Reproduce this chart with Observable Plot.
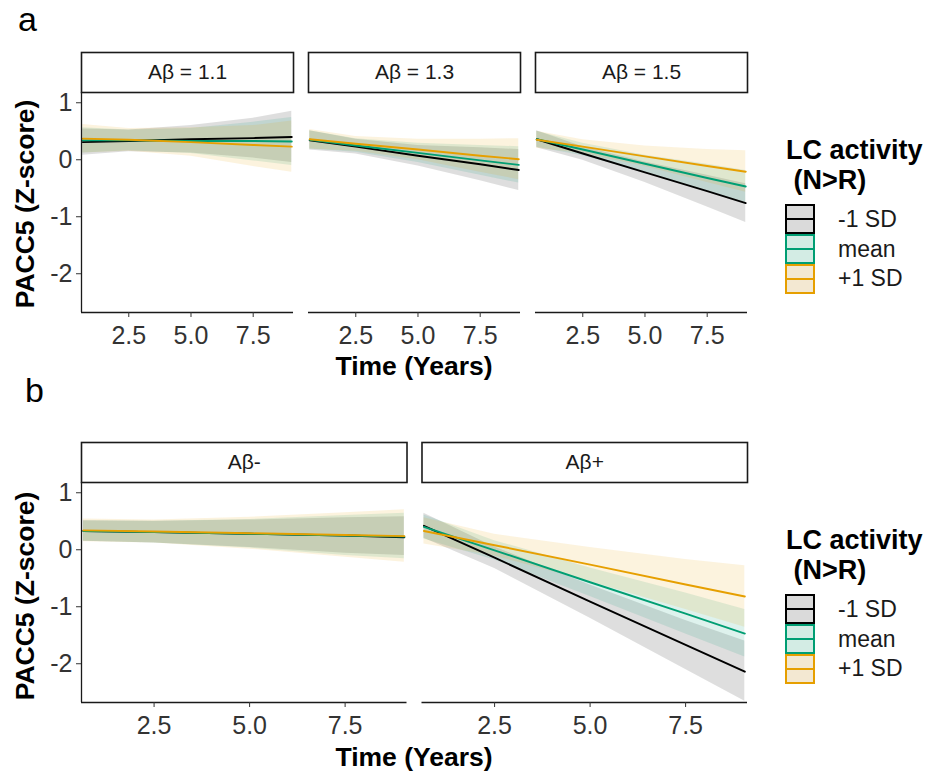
<!DOCTYPE html>
<html><head><meta charset="utf-8">
<script src="https://cdn.jsdelivr.net/npm/d3@7"></script>
<script src="https://cdn.jsdelivr.net/npm/@observablehq/plot@0.6"></script>
<style>
body{margin:0;background:#fff;}
#root{position:relative;width:928px;height:773px;overflow:hidden;font-family:"Liberation Sans",Arial,Helvetica,sans-serif;background:#fff;}
.lbl{position:absolute;line-height:1;white-space:pre;color:#000;}
.plotbox{position:absolute;left:0;}
</style></head><body><div id="root"></div>
<script>
// ---------- data ----------
const groups = ["-1 SD", "mean", "+1 SD"];
const groupColors = ["#000000", "#009E73", "#E69F00"];
const keyFills = ["#dadada", "#d3ece4", "#f3e8d2"];
const times = [0.65, 2.5, 5.0, 7.5, 9.05];
const facetsA = ["Aβ = 1.1", "Aβ = 1.3", "Aβ = 1.5"];
const facetsB = ["Aβ-", "Aβ+"];
const xTicks = [2.5, 5.0, 7.5];
const yTicks = [-2, -1, 0, 1];
const xDomain = [0.6, 9.12];
const yDomain = [-2.68, 1.18];

// rows: -1 SD, mean, +1 SD ; columns: times
const a11Fit   = [[0.31, 0.33, 0.36, 0.38, 0.40], [0.34, 0.34, 0.33, 0.33, 0.32], [0.37, 0.35, 0.31, 0.26, 0.23]];
const a11Lower = [[0.08, 0.14, 0.12, 0.03, -0.05], [0.12, 0.16, 0.11, -0.02, -0.10], [0.12, 0.15, 0.06, -0.12, -0.22]];
const a11Upper = [[0.54, 0.52, 0.60, 0.73, 0.85], [0.56, 0.52, 0.55, 0.66, 0.74], [0.62, 0.55, 0.56, 0.60, 0.68]];

const a13Fit   = [[0.34, 0.23, 0.07, -0.08, -0.18], [0.35, 0.25, 0.12, -0.01, -0.09], [0.36, 0.28, 0.18, 0.07, 0.01]];
const a13Lower = [[0.17, 0.10, -0.11, -0.37, -0.54], [0.19, 0.13, -0.05, -0.27, -0.41], [0.19, 0.15, 0.00, -0.22, -0.35]];
const a13Upper = [[0.51, 0.36, 0.25, 0.21, 0.18], [0.51, 0.37, 0.29, 0.25, 0.23], [0.53, 0.41, 0.36, 0.36, 0.37]];

const a15Fit   = [[0.36, 0.11, -0.22, -0.55, -0.76], [0.36, 0.18, -0.07, -0.32, -0.47], [0.35, 0.23, 0.06, -0.11, -0.21]];
const a15Lower = [[0.21, -0.01, -0.40, -0.83, -1.10], [0.22, 0.07, -0.22, -0.56, -0.75], [0.20, 0.11, -0.12, -0.40, -0.57]];
const a15Upper = [[0.51, 0.23, -0.04, -0.27, -0.42], [0.50, 0.29, 0.08, -0.08, -0.19], [0.50, 0.35, 0.24, 0.18, 0.16]];

const bNegFit   = [[0.33, 0.31, 0.28, 0.25, 0.22], [0.33, 0.31, 0.28, 0.25, 0.23], [0.34, 0.32, 0.29, 0.26, 0.24]];
const bNegLower = [[0.15, 0.12, 0.04, -0.06, -0.10], [0.15, 0.12, 0.03, -0.10, -0.16], [0.14, 0.12, 0.01, -0.13, -0.22]];
const bNegUpper = [[0.51, 0.50, 0.52, 0.56, 0.58], [0.51, 0.50, 0.53, 0.60, 0.64], [0.54, 0.52, 0.57, 0.65, 0.70]];

const bPosFit   = [[0.42, -0.14, -0.91, -1.67, -2.14], [0.40, -0.01, -0.57, -1.12, -1.47], [0.33, 0.08, -0.26, -0.61, -0.82]];
const bPosLower = [[0.20, -0.33, -1.20, -2.10, -2.66], [0.19, -0.18, -0.82, -1.48, -1.88], [0.10, -0.11, -0.56, -1.05, -1.36]];
const bPosUpper = [[0.64, 0.05, -0.62, -1.24, -1.60], [0.61, 0.16, -0.32, -0.76, -1.05], [0.56, 0.27, 0.04, -0.17, -0.28]];

// ---------- build tables ----------
function build(facet, fit, lower, upper) {
  const rows = [];
  groups.forEach((g, gi) => {
    times.forEach((t, ti) => {
      rows.push({facet, group: g, t, fit: fit[gi][ti], lo: lower[gi][ti], hi: upper[gi][ti]});
    });
  });
  return rows;
}
const rowsA = [
  ...build(facetsA[0], a11Fit, a11Lower, a11Upper),
  ...build(facetsA[1], a13Fit, a13Lower, a13Upper),
  ...build(facetsA[2], a15Fit, a15Lower, a15Upper)
];
const rowsB = [
  ...build(facetsB[0], bNegFit, bNegLower, bNegUpper),
  ...build(facetsB[1], bPosFit, bPosLower, bPosUpper)
];

const root = document.getElementById("root");
const W = 760, ML = 81, MR = 13;
const FONT = '"Liberation Sans", Arial, Helvetica, sans-serif';

function stripPlot(facets, pad) {
  return Plot.plot({
    width: W, height: 42, marginTop: 1, marginBottom: 1, marginLeft: ML, marginRight: MR,
    fx: {domain: facets, paddingInner: pad, paddingOuter: 0, round: false, axis: null},
    style: {fontFamily: FONT, background: "transparent", overflow: "visible"},
    marks: [
      Plot.frame({stroke: "#1a1a1a", strokeWidth: 1.6, fill: "white"}),
      Plot.text(facets, {fx: d => d, text: d => d, frameAnchor: "middle", fontSize: 21, fill: "#1a1a1a"})
    ]
  });
}

function mainPlot(facets, pad, rows) {
  return Plot.plot({
    width: W, height: 265, marginTop: 0, marginBottom: 45, marginLeft: ML, marginRight: MR,
    fx: {domain: facets, paddingInner: pad, paddingOuter: 0, round: false, axis: null},
    x: {domain: xDomain},
    y: {domain: yDomain},
    color: {domain: groups, range: groupColors},
    style: {fontFamily: FONT, fontSize: "25px", color: "#333", background: "transparent", overflow: "visible"},
    marks: [
      Plot.areaY(rows, {x: "t", y1: "lo", y2: "hi", fx: "facet", fill: "group", z: "group", fillOpacity: 0.13}),
      Plot.lineY(rows, {x: "t", y: "fit", fx: "facet", stroke: "group", z: "group", strokeWidth: 1.9}),
      Plot.ruleY([yDomain[0]], {stroke: "#1a1a1a", strokeWidth: 1.3}),
      Plot.ruleX([{f: facets[0], x: xDomain[0]}], {x: "x", fx: "f", stroke: "#1a1a1a", strokeWidth: 1.3}),
      Plot.axisX({ticks: xTicks, tickFormat: d => d.toFixed(1), tickSize: 5, tickPadding: 9, label: null, stroke: "#333", fill: "#333"}),
      Plot.axisY({ticks: yTicks, tickFormat: d => String(d), tickSize: 5, tickPadding: 4, label: null, stroke: "#333", fill: "#333"})
    ]
  });
}

function place(el, top) {
  el.classList.add("plotbox");
  el.style.top = top + "px";
  root.appendChild(el);
}

function text(str, x, y, size, opts = {}) {
  const d = document.createElement("div");
  d.className = "lbl";
  d.textContent = str;
  d.style.left = x + "px";
  d.style.top = y + "px";
  d.style.fontSize = size + "px";
  if (opts.bold) d.style.fontWeight = "bold";
  if (opts.color) d.style.color = opts.color;
  let tx = opts.anchor === "middle" ? "-50%" : opts.anchor === "end" ? "-100%" : "0";
  let tr = `translate(${tx},-50%)`;
  if (opts.rotate) tr = `translate(-50%,-50%) rotate(${opts.rotate}deg)`;
  d.style.transform = tr;
  root.appendChild(d);
  return d;
}

function legend(top) {
  text("LC activity", 786, top + 0, 27, {bold: true});
  text(" (N>R)", 786, top + 30, 27, {bold: true});
  groups.forEach((g, i) => {
    const k = document.createElement("div");
    k.style.cssText = `position:absolute;left:785px;top:${top + 54 + i * 30}px;width:30px;height:30px;box-sizing:border-box;border:2px solid ${groupColors[i]};background:${keyFills[i]};`;
    const ln = document.createElement("div");
    ln.style.cssText = `position:absolute;left:0;right:0;top:12px;height:2px;background:${groupColors[i]};`;
    k.appendChild(ln);
    root.appendChild(k);
    text(g, 838, top + 69 + i * 29.5, 23, {color: "#1a1a1a"});
  });
}

// ---------- panel a ----------
text("a", 18, 19, 34);
place(stripPlot(facetsA, 0.066), 51);
place(mainPlot(facetsA, 0.066, rowsA), 92);
text("PACC5 (Z-score)", 25, 204, 26.5, {bold: true, rotate: -90});
text("Time (Years)", 414, 366, 26.5, {bold: true, anchor: "middle"});
legend(150);

// ---------- panel b ----------
text("b", 25, 390, 34);
place(stripPlot(facetsB, 0.044), 441);
place(mainPlot(facetsB, 0.044, rowsB), 482);
text("PACC5 (Z-score)", 25, 596, 26.5, {bold: true, rotate: -90});
text("Time (Years)", 414, 757, 26.5, {bold: true, anchor: "middle"});
legend(540);
</script></body></html>
